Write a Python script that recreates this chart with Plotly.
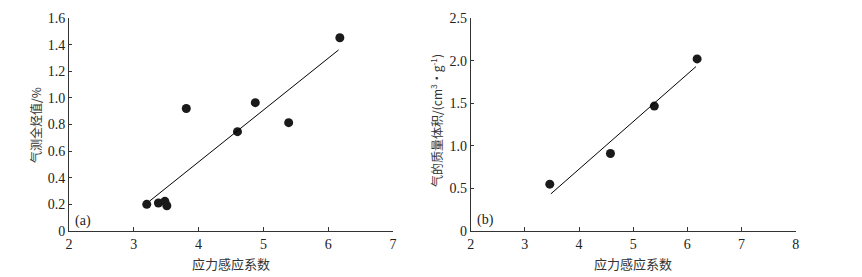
import plotly.graph_objects as go

# Panel (a)
a_x = [3.2, 3.38, 3.48, 3.51, 3.81, 4.6, 4.875, 5.39, 6.18]
a_y = [0.2, 0.21, 0.223, 0.19, 0.92, 0.746, 0.964, 0.814, 1.452]
a_fit_x = [3.24, 6.16]
a_fit_y = [0.223, 1.36]

# Panel (b)
b_x = [3.46, 4.58, 5.39, 6.18]
b_y = [0.55, 0.91, 1.466, 2.02]
b_fit_x = [3.48, 6.16]
b_fit_y = [0.436, 1.93]

a_xticks = [2, 3, 4, 5, 6, 7]
a_yticks = [0, 0.2, 0.4, 0.6, 0.8, 1.0, 1.2, 1.4, 1.6]
a_ytext = ["0", "0.2", "0.4", "0.6", "0.8", "1.0", "1.2", "1.4", "1.6"]
b_xticks = [2, 3, 4, 5, 6, 7, 8]
b_yticks = [0, 0.5, 1.0, 1.5, 2.0, 2.5]
b_ytext = ["0", "0.5", "1.0", "1.5", "2.0", "2.5"]

x_title = "应力感应系数"
a_ytitle = "气测全烃值/%"
b_ytitle = "气的质量体积/(cm<sup>3</sup>·g<sup>-1</sup>)"

W, H = 862, 277
serif = "Liberation Serif, Times New Roman, serif"
cjk = "Noto Sans CJK SC"
ink = "#1a1a1a"
axc = "#333333"

fig = go.Figure()
fig.add_trace(go.Scatter(x=a_x, y=a_y, mode="markers", xaxis="x", yaxis="y",
                         marker=dict(size=9, color=ink), cliponaxis=False, showlegend=False))
fig.add_trace(go.Scatter(x=a_fit_x, y=a_fit_y, mode="lines", xaxis="x", yaxis="y",
                         line=dict(color="black", width=1), showlegend=False))
fig.add_trace(go.Scatter(x=b_x, y=b_y, mode="markers", xaxis="x2", yaxis="y2",
                         marker=dict(size=9, color=ink), cliponaxis=False, showlegend=False))
fig.add_trace(go.Scatter(x=b_fit_x, y=b_fit_y, mode="lines", xaxis="x2", yaxis="y2",
                         line=dict(color="black", width=1), showlegend=False))

ydom = [(H - 231) / H, (H - 18) / H]
tickfont = dict(family=serif, size=14, color="#222")

def xax(dom, rng, ticks, anchor):
    return dict(domain=dom, range=rng, tickvals=ticks, ticktext=[str(t) for t in ticks],
                showline=True, linecolor=axc, linewidth=1, ticks="inside", ticklen=4,
                tickcolor=axc, showgrid=False, zeroline=False, tickfont=tickfont,
                anchor=anchor, fixedrange=True, automargin=False)

def yax(rng, ticks, text, anchor):
    return dict(domain=ydom, range=rng, tickvals=ticks, ticktext=text,
                showline=True, linecolor=axc, linewidth=1, ticks="inside", ticklen=3,
                tickcolor=axc, showgrid=False, zeroline=False, tickfont=tickfont,
                anchor=anchor, fixedrange=True, automargin=False)

fig.update_layout(
    width=W, height=H, autosize=False,
    margin=dict(l=0, r=0, t=0, b=0, pad=0, autoexpand=False),
    paper_bgcolor="white", plot_bgcolor="white",
    xaxis=xax([69 / W, 393 / W], [2, 7], a_xticks, "y"),
    yaxis=yax([0, 1.6], a_yticks, a_ytext, "x"),
    xaxis2=xax([470.7 / W, 795.7 / W], [2, 8], b_xticks, "y2"),
    yaxis2=yax([0, 2.5], b_yticks, b_ytext, "x2"),
)

def pann(text, px, py, font, **kw):
    return dict(text=text, xref="paper", yref="paper", x=px / W, y=(H - py) / H,
                xanchor=kw.pop("xanchor", "center"), yanchor="middle",
                showarrow=False, font=font, **kw)

cjkfont = dict(family=cjk, size=13, color="#333")
cjkfont_y = dict(family=cjk, size=12, color="#333")
labfont = dict(family=serif, size=14, color="#222")
ann = [
    pann(x_title, 231, 263, cjkfont),
    pann(x_title, 633, 263, cjkfont),
    pann(a_ytitle, 36, 125, cjkfont_y, textangle=-90),
    pann(b_ytitle, 436, 121, cjkfont_y, textangle=-90),
    pann("(a)", 73, 221, labfont, xanchor="left"),
    pann("(b)", 475, 220, labfont, xanchor="left"),
]
fig.update_layout(annotations=ann)

fig.write_html("out.html")
